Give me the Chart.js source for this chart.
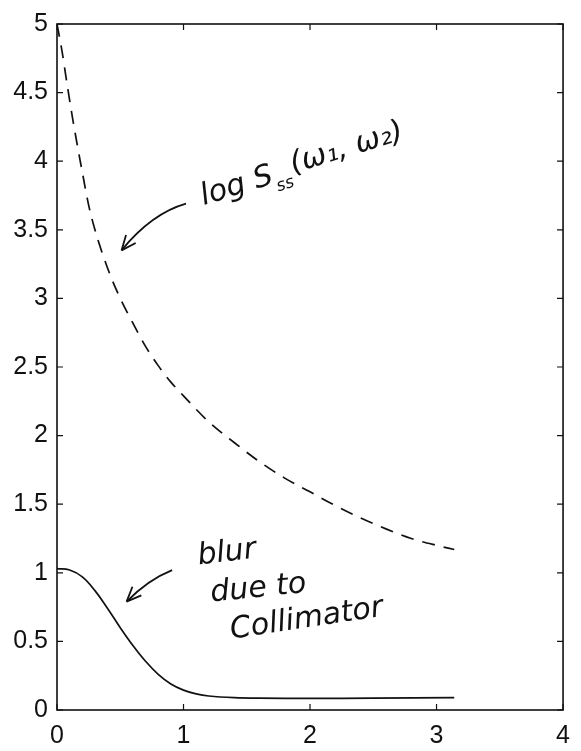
<!DOCTYPE html>
<html>
<head>
<meta charset="utf-8">
<script src="https://cdn.jsdelivr.net/npm/chart.js@4"></script>
<style>
  html, body { margin: 0; padding: 0; background: #fff; }
  #wrap { width: 581px; height: 751px; }
</style>
</head>
<body>
<div id="wrap"><canvas id="chart" width="581" height="751"></canvas></div>
<script>
// log power spectrum (dashed)
const specX = [0, 0.04, 0.08, 0.12, 0.16, 0.2, 0.25, 0.3, 0.4, 0.5, 0.6, 0.7, 0.8, 0.9, 1.0, 1.2, 1.4, 1.6, 1.8, 2.0, 2.2, 2.4, 2.6, 2.8, 3.0, 3.14];
const specY = [5.0, 4.8, 4.56, 4.33, 4.12, 3.92, 3.68, 3.5, 3.22, 3.0, 2.82, 2.65, 2.51, 2.39, 2.29, 2.1, 1.95, 1.81, 1.69, 1.59, 1.49, 1.4, 1.32, 1.25, 1.2, 1.17];

// collimator blur (solid)
const blurX = [0, 0.1, 0.2, 0.3, 0.4, 0.5, 0.6, 0.7, 0.8, 0.9, 1.0, 1.1, 1.2, 1.4, 1.6, 2.0, 2.5, 3.14];
const blurY = [1.03, 1.02, 0.97, 0.87, 0.74, 0.6, 0.47, 0.355, 0.26, 0.19, 0.145, 0.117, 0.102, 0.09, 0.086, 0.085, 0.086, 0.09];

const xTicks = [0, 1, 2, 3, 4];
const yTicks = [0, 0.5, 1, 1.5, 2, 2.5, 3, 3.5, 4, 4.5, 5];

function toPoints(xs, ys) {
  return xs.map((x, i) => ({ x: x, y: ys[i] }));
}

const ink = "#111";
const hand = "italic 30px 'DejaVu Sans'";

// frame with inward ticks, like the original plot
const framePlugin = {
  id: "frame",
  afterDraw(chart) {
    const ctx = chart.ctx;
    const a = chart.chartArea;
    const xs = chart.scales.x;
    const ys = chart.scales.y;
    ctx.save();
    ctx.strokeStyle = ink;
    ctx.lineWidth = 1.6;
    ctx.strokeRect(a.left, a.top, a.right - a.left, a.bottom - a.top);
    ctx.lineWidth = 1.2;
    ctx.beginPath();
    xTicks.forEach(v => {
      const px = xs.getPixelForValue(v);
      ctx.moveTo(px, a.bottom); ctx.lineTo(px, a.bottom - 6);
      ctx.moveTo(px, a.top); ctx.lineTo(px, a.top + 6);
    });
    yTicks.forEach(v => {
      const py = ys.getPixelForValue(v);
      ctx.moveTo(a.left, py); ctx.lineTo(a.left + 6, py);
      ctx.moveTo(a.right, py); ctx.lineTo(a.right - 6, py);
    });
    ctx.stroke();
    ctx.restore();
  }
};

// handwritten notes
const notesPlugin = {
  id: "notes",
  afterDraw(chart) {
    const ctx = chart.ctx;
    const xs = chart.scales.x;
    const ys = chart.scales.y;
    const P = (x, y) => [xs.getPixelForValue(x), ys.getPixelForValue(y)];

    function arrow(from, ctrl, to) {
      const [x0, y0] = P(from[0], from[1]);
      const [cx, cy] = P(ctrl[0], ctrl[1]);
      const [x1, y1] = P(to[0], to[1]);
      ctx.beginPath();
      ctx.moveTo(x0, y0);
      ctx.quadraticCurveTo(cx, cy, x1, y1);
      ctx.stroke();
      const ang = Math.atan2(y1 - cy, x1 - cx);
      ctx.beginPath();
      ctx.moveTo(x1, y1);
      ctx.lineTo(x1 - 16 * Math.cos(ang - 0.4), y1 - 16 * Math.sin(ang - 0.4));
      ctx.moveTo(x1, y1);
      ctx.lineTo(x1 - 16 * Math.cos(ang + 0.4), y1 - 16 * Math.sin(ang + 0.4));
      ctx.stroke();
    }

    function note(text, at, rot) {
      const [x, y] = P(at[0], at[1]);
      ctx.save();
      ctx.translate(x, y);
      ctx.rotate(rot);
      ctx.font = hand;
      ctx.textAlign = "left";
      ctx.textBaseline = "alphabetic";
      ctx.fillText(text, 0, 0);
      ctx.restore();
    }

    ctx.save();
    ctx.strokeStyle = ink;
    ctx.fillStyle = ink;
    ctx.lineWidth = 1.8;

    // log S_ss(w1, w2)
    arrow([1.02, 3.69], [0.75, 3.62], [0.51, 3.35]);
    const [lx, ly] = P(1.16, 3.68);
    ctx.save();
    ctx.translate(lx, ly);
    ctx.rotate(-0.3);
    ctx.font = hand;
    ctx.fillText("log S", 0, 0);
    let w = ctx.measureText("log S").width;
    ctx.font = "italic 17px 'DejaVu Sans'";
    ctx.fillText("ss", w + 1, 9);
    w += ctx.measureText("ss").width + 3;
    ctx.font = hand;
    ctx.fillText("(ω\u2081, ω\u2082)", w, -4);
    ctx.restore();

    // blur due to Collimator
    arrow([0.91, 1.02], [0.72, 0.95], [0.55, 0.79]);
    note("blur", [1.12, 1.06], -0.12);
    note("due to", [1.22, 0.79], -0.1);
    note("Collimator", [1.38, 0.52], -0.15);

    ctx.restore();
  }
};

const tickFont = { family: "'Liberation Sans', Arial, sans-serif", size: 25 };

new Chart(document.getElementById("chart"), {
  type: "line",
  data: {
    datasets: [
      {
        label: "log Sss",
        data: toPoints(specX, specY),
        borderColor: ink,
        borderWidth: 1.7,
        borderDash: [13, 9],
        pointRadius: 0,
        cubicInterpolationMode: "monotone",
        fill: false
      },
      {
        label: "blur",
        data: toPoints(blurX, blurY),
        borderColor: ink,
        borderWidth: 1.7,
        pointRadius: 0,
        tension: 0.4,
        fill: false
      }
    ]
  },
  options: {
    responsive: false,
    animation: false,
    layout: { padding: { top: 12, right: 14, left: 0, bottom: 0 } },
    plugins: {
      legend: { display: false },
      tooltip: { enabled: false }
    },
    scales: {
      x: {
        type: "linear",
        min: 0,
        max: 4,
        afterBuildTicks: s => { s.ticks = xTicks.map(v => ({ value: v })); },
        afterFit: s => { s.height = 41; },
        grid: { display: false, drawTicks: false },
        border: { display: false },
        ticks: { color: ink, font: tickFont, padding: 11, maxRotation: 0, callback: v => String(v) }
      },
      y: {
        type: "linear",
        min: 0,
        max: 5,
        afterBuildTicks: s => { s.ticks = yTicks.map(v => ({ value: v })); },
        afterFit: s => { s.width = 57; },
        grid: { display: false, drawTicks: false },
        border: { display: false },
        ticks: { color: ink, font: tickFont, padding: 9, callback: v => String(v) }
      }
    }
  },
  plugins: [framePlugin, notesPlugin]
});
</script>
</body>
</html>
